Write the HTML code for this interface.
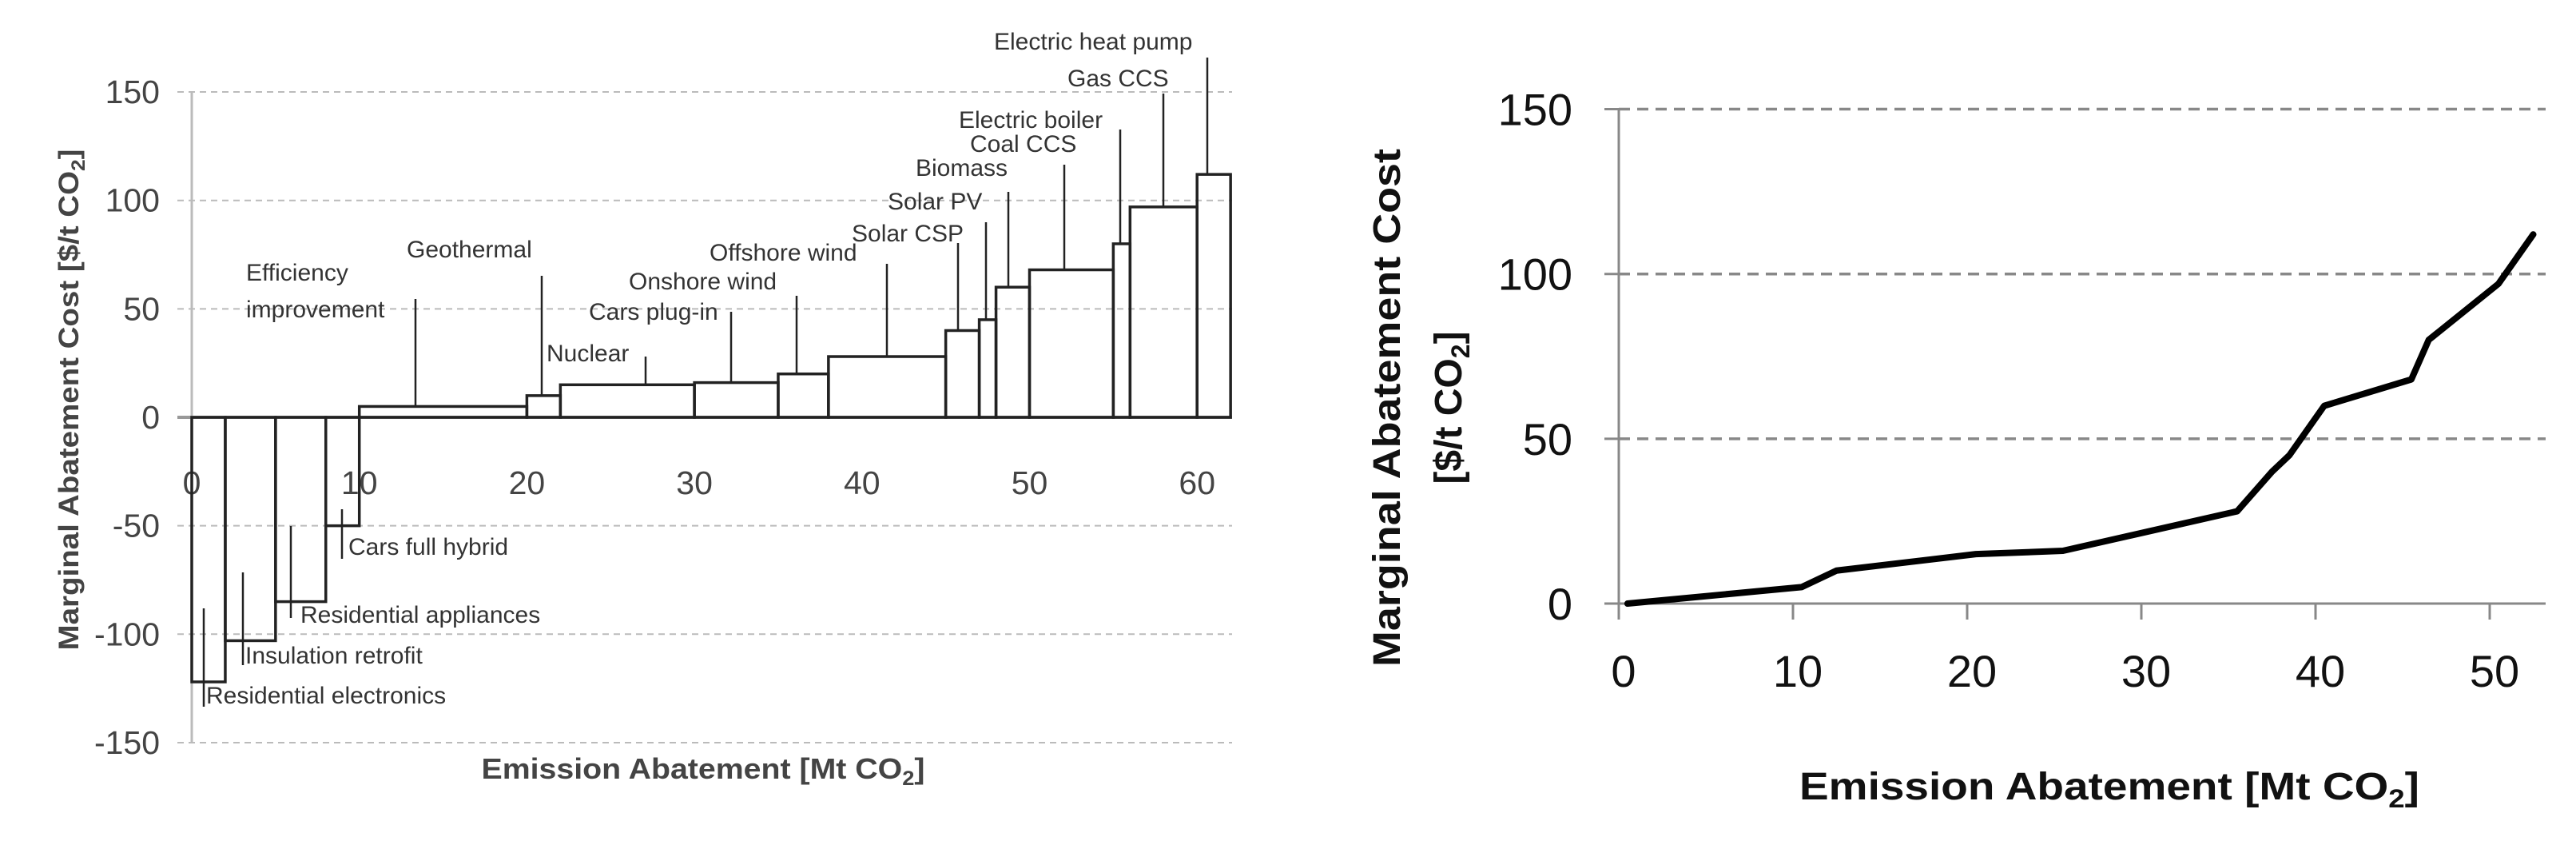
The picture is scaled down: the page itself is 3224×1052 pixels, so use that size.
<!DOCTYPE html>
<html><head><meta charset="utf-8"><style>
html,body{margin:0;padding:0;background:#fff;}
svg{display:block;font-family:"Liberation Sans",sans-serif;}
</style></head><body>
<svg id="svg" width="3224" height="1052" viewBox="0 0 3224 1052" xmlns="http://www.w3.org/2000/svg">
<g id="left"></g>
<g id="right"></g>
</svg>
<script>
// ---- Left chart data ----
const stepNames = ["Residential electronics","Insulation retrofit","Residential appliances","Cars full hybrid","Efficiency improvement","Geothermal","Nuclear","Cars plug-in","Onshore wind","Offshore wind","Solar CSP","Solar PV","Biomass","Coal CCS","Electric boiler","Gas CCS","Electric heat pump"];
const stepStart = [0,2,5,8,10,20,22,30,35,38,45,47,48,50,55,56,60];
const stepEnd   = [2,5,8,10,20,22,30,35,38,45,47,48,50,55,56,60,62];
const stepCost  = [-122,-103,-85,-50,5,10,15,16,20,28,40,45,60,68,80,97,112];
const leftYTicks = [150,100,50,0,-50,-100,-150];
const leftXTicks = [0,10,20,30,40,50,60];
// ---- Right chart data ----
const curveX = [0.5,10.5,12.5,20.5,25.5,30.5,35.5,37.5,38.5,40.5,45.5,46.5,50.5,52.5];
const curveY = [0,5,10,15,16,22,28,40,45,60,68,80,97,112];
const rightYTicks = [0,50,100,150];
const rightXTicks = [0,10,20,30,40,50];

const NS="http://www.w3.org/2000/svg";
function mk(parent,tag,attrs,text){const e=document.createElementNS(NS,tag);for(const k in attrs)e.setAttribute(k,attrs[k]);if(text!==undefined)e.textContent=text;parent.appendChild(e);return e;}

// Left axes
const L=document.getElementById('left');
const lx=v=>240+v*20.97;
const ly=v=>522-v*2.713;
leftYTicks.forEach(t=>{
  if(t!==0){const g=mk(L,'line',{x1:222,x2:1542,y1:ly(t),y2:ly(t),stroke:'#bbb','stroke-width':2,'stroke-dasharray':'8 6'});
  
  }
  const tx=mk(L,'text',{x:200,y:ly(t)+14,'text-anchor':'end','font-size':41,fill:'#444'},String(t));
  
  
});
const ya=mk(L,'line',{x1:240,x2:240,y1:ly(150),y2:ly(-150),stroke:'#bbb','stroke-width':3});


const xa=mk(L,'line',{x1:222,x2:1542,y1:ly(0),y2:ly(0),stroke:'#999','stroke-width':4});


leftXTicks.forEach(t=>{
  const tx=mk(L,'text',{x:lx(t),y:618,'text-anchor':'middle','font-size':41,fill:'#444'},String(t));
  
  
});
// bars
stepCost.forEach((c,i)=>{
  const x0=lx(stepStart[i]),x1=lx(stepEnd[i]),y=ly(c),y0=ly(0);
  const r=mk(L,'rect',{x:x0,y:Math.min(y,y0),width:x1-x0,height:Math.abs(y0-y),fill:'none',stroke:'#222','stroke-width':3.5});
  
  
});
// labels & leaders (label positions are layout, not data)
const labs=[
 [0,[255,761,884],[258,880]],
 [1,[304,716,832],[307,830]],
 [2,[364,658,773],[376,779]],
 [3,[428,637,699],[436,694]],
 [4,[520,374,null],[308,351]],
 [5,[678,345,null],[509,322]],
 [6,[808,446,null],[684,452]],
 [7,[915,390,null],[737,400]],
 [8,[997,370,null],[787,362]],
 [9,[1110,330,null],[888,326]],
 [10,[1199,304,null],[1066,302]],
 [11,[1234,278,null],[1111,262]],
 [12,[1262,240,null],[1146,220]],
 [13,[1332,206,null],[1214,190]],
 [14,[1402,162,null],[1200,160]],
 [15,[1456,117,null],[1336,108]],
 [16,[1511,72,null],[1244,62]],
];
labs.forEach(([i,ld,tp])=>{
  let y2 = ld[2]!==null ? ld[2] : ly(stepCost[i]);
  const l=mk(L,'line',{x1:ld[0],x2:ld[0],y1:ld[1],y2:y2,stroke:'#222','stroke-width':2.5});
  
  
  if(i===4){
    const t1=mk(L,'text',{x:tp[0],y:tp[1],'font-size':30,fill:'#333'},'Efficiency');
    
    
    const t2=mk(L,'text',{x:tp[0],y:tp[1]+46,'font-size':30,fill:'#333'},'improvement');
    
    
  } else {
    const t=mk(L,'text',{x:tp[0],y:tp[1],'font-size':30,fill:'#333'},stepNames[i]);
    
    
  }
});
const lyt=mk(L,'text',{x:0,y:0,'font-size':35,'font-weight':'bold',fill:'#444','text-anchor':'middle',textLength:627,lengthAdjust:'spacingAndGlyphs',transform:'translate(98,500) rotate(-90)'});
lyt.innerHTML='Marginal Abatement Cost  [$/t CO<tspan font-size="24" dy="8">2</tspan><tspan dy="-8">]</tspan>';


const lxt=mk(L,'text',{x:880,y:974,'font-size':36,'font-weight':'bold',fill:'#444','text-anchor':'middle',textLength:555,lengthAdjust:'spacingAndGlyphs'});
lxt.innerHTML='Emission Abatement [Mt CO<tspan font-size="25" dy="8">2</tspan><tspan dy="-8">]</tspan>';



// Right chart
const R=document.getElementById('right');
const rx=v=>2026+v*21.8;
const ry=v=>755-v*4.123;
rightYTicks.forEach(t=>{
  if(t!==0){const g=mk(R,'line',{x1:2026,x2:3186,y1:ry(t),y2:ry(t),stroke:'#888','stroke-width':3.5,'stroke-dasharray':'14 9'});
  
  }
  const tk=mk(R,'line',{x1:2008,x2:2026,y1:ry(t),y2:ry(t),stroke:'#888','stroke-width':3});
  
  
  const tx=mk(R,'text',{x:1968,y:ry(t)+20,'text-anchor':'end','font-size':56,fill:'#111'},String(t));
  
  
});
const rya=mk(R,'line',{x1:2026,x2:2026,y1:ry(150),y2:ry(0)+20,stroke:'#888','stroke-width':3});


const rxa=mk(R,'line',{x1:2008,x2:3186,y1:ry(0),y2:ry(0),stroke:'#888','stroke-width':3});


rightXTicks.forEach(t=>{
  const tk=mk(R,'line',{x1:rx(t),x2:rx(t),y1:ry(0),y2:ry(0)+20,stroke:'#888','stroke-width':3});
  
  
  const tx=mk(R,'text',{x:rx(t)+6,y:859,'text-anchor':'middle','font-size':56,fill:'#111'},String(t));
  
  
});
const pts=curveX.map((x,i)=>rx(x)+','+ry(curveY[i])).join(' ');
const pl=mk(R,'polyline',{points:pts,fill:'none',stroke:'#000','stroke-width':8,'stroke-linejoin':'round','stroke-linecap':'round'});


const ryt=mk(R,'text',{x:0,y:0,'font-size':48,'font-weight':'bold',fill:'#111','text-anchor':'middle',textLength:648,lengthAdjust:'spacingAndGlyphs',transform:'translate(1752,510) rotate(-90)'},'Marginal Abatement Cost');


const ryt2=mk(R,'text',{x:0,y:0,'font-size':48,'font-weight':'bold',fill:'#111','text-anchor':'middle',transform:'translate(1829,510) rotate(-90)'});
ryt2.innerHTML='[$/t CO<tspan font-size="32" dy="10">2</tspan><tspan dy="-10">]</tspan>';


const rxt=mk(R,'text',{x:2640,y:1000,'font-size':48,'font-weight':'bold',fill:'#111','text-anchor':'middle',textLength:776,lengthAdjust:'spacingAndGlyphs'});
rxt.innerHTML='Emission Abatement [Mt CO<tspan font-size="32" dy="10">2</tspan><tspan dy="-10">]</tspan>';


</script>
</body></html>
